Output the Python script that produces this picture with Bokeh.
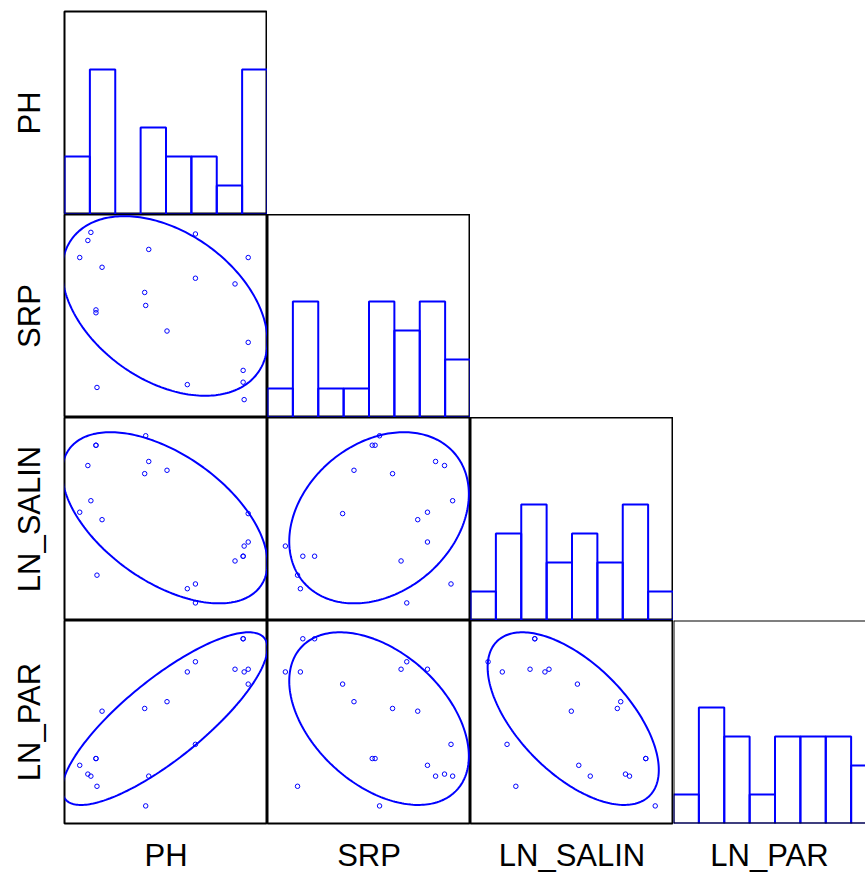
import numpy as np
from bokeh.plotting import figure
from bokeh.models import Range1d, Span, LinearAxis, FixedTicker
from bokeh.layouts import gridplot
from bokeh.embed import file_html
from bokeh.resources import INLINE

PH = [7.15, 7.23, 7.26, 7.31, 7.31, 7.32, 7.37, 7.79, 7.80, 7.83,
      8.01, 8.21, 8.29, 8.29, 8.68, 8.76, 8.76, 8.77, 8.81, 8.81]
SRP = [0.394, 0.436, 0.456, 0.265, 0.258, 0.074, 0.370, 0.308, 0.276, 0.414,
       0.213, 0.081, 0.452, 0.343, 0.329, 0.116, 0.087, 0.044, 0.394, 0.185]
LN_SALIN = [2.60, 3.29, 2.77, 3.59, 3.59, 1.67, 2.49, 3.17, 3.73, 3.35,
            3.22, 1.47, 1.54, 1.26, 1.88, 1.95, 1.95, 2.10, 2.16, 2.58]
LN_PAR = [4.86, 4.73, 4.70, 4.96, 4.96, 4.55, 5.66, 5.70, 4.26, 4.70,
          5.80, 6.24, 5.17, 6.39, 6.28, 6.73, 6.73, 6.24, 6.28, 6.06]

VARIABLES = ["PH", "SRP", "LN_SALIN", "LN_PAR"]
DATA = {"PH": PH, "SRP": SRP, "LN_SALIN": LN_SALIN, "LN_PAR": LN_PAR}
AXIS_LIMITS = {"PH": (7.0, 9.0), "SRP": (0.0, 0.5),
               "LN_SALIN": (1.0, 4.0), "LN_PAR": (4.0, 7.0)}
N_BINS = 8
HIST_TOP = 7
ELLIPSE_P = 0.6827

# ---- layout / style ----
PANEL = 203
LEFT_PAD = 64
TOP_PAD = 11
BOTTOM_PAD = 51
LAST_COL_W = 192
BLUE = "#0000FF"
FONT = "Liberation Sans"
LABEL_SIZE = "31px"


def ellipse(xv, yv, p):
    x = np.asarray(xv, float)
    y = np.asarray(yv, float)
    n = len(x)
    cov = np.cov(x, y)
    m = n - 2
    f = (m / 2.0) * ((1 - p) ** (-2.0 / m) - 1)
    c = 2.0 * (n - 1) / (n - 2) * f
    L = np.linalg.cholesky(cov)
    t = np.linspace(0, 2 * np.pi, 240)
    pts = np.sqrt(c) * (L @ np.vstack([np.cos(t), np.sin(t)]))
    return x.mean() + pts[0], y.mean() + pts[1]


def label_axis(text, standoff):
    return LinearAxis(axis_label=text, ticker=FixedTicker(ticks=[]),
                      axis_line_color=None, major_tick_out=0,
                      major_tick_in=0, minor_tick_out=0, minor_tick_in=0,
                      major_label_standoff=0,
                      axis_label_standoff=standoff,
                      axis_label_text_font=FONT,
                      axis_label_text_font_size=LABEL_SIZE,
                      axis_label_text_font_style="normal",
                      axis_label_text_color="black")


def make_fig(i, j):
    vx, vy = VARIABLES[j], VARIABLES[i]
    xlo, xhi = AXIS_LIMITS[vx]
    fw = LAST_COL_W if j == 3 else PANEL
    xhi_vis = xlo + (xhi - xlo) * fw / PANEL
    if i == j:
        ylo, yhi = 0, HIST_TOP
    else:
        ylo, yhi = AXIS_LIMITS[vy]
    p = figure(frame_width=fw, frame_height=PANEL,
               x_range=Range1d(xlo, xhi_vis), y_range=Range1d(ylo, yhi),
               x_axis_type=None, y_axis_type=None,
               toolbar_location=None, output_backend="svg",
               min_border=0,
               min_border_left=LEFT_PAD if j == 0 else 0,
               min_border_top=TOP_PAD if i == 0 else 0,
               min_border_bottom=BOTTOM_PAD if i == 3 else 0,
               background_fill_color="white", border_fill_color="white")
    p.xgrid.visible = False
    p.ygrid.visible = False
    if j == 3:
        p.outline_line_color = None
        for loc, dim in ((xlo, "height"), (ylo, "width"), (yhi, "width")):
            p.add_layout(Span(location=loc, dimension=dim,
                              line_color="black", line_width=2))
    else:
        p.outline_line_color = "black"
        p.outline_line_width = 2

    if i == j:
        counts, edges = np.histogram(DATA[vx], bins=N_BINS, range=(xlo, xhi))
        p.quad(left=edges[:-1], right=edges[1:], bottom=0, top=counts,
               fill_color=None, line_color=BLUE, line_width=2)
    else:
        ex, ey = ellipse(DATA[vx], DATA[vy], ELLIPSE_P)
        p.line(ex, ey, line_color=BLUE, line_width=2)
        p.scatter(DATA[vx], DATA[vy], marker="circle", size=4.5,
                  fill_color=None, line_color=BLUE, line_width=1)

    if j == 0:
        p.add_layout(label_axis(vy, 18), "left")
    if i == 3:
        p.add_layout(label_axis(vx, 14), "below")
    return p


rows = []
for i in range(4):
    row = []
    for j in range(4):
        row.append(make_fig(i, j) if j <= i else None)
    rows.append(row)

grid = gridplot(rows, toolbar_location=None)

with open("out.html", "w") as fh:
    fh.write(file_html(grid, INLINE))
